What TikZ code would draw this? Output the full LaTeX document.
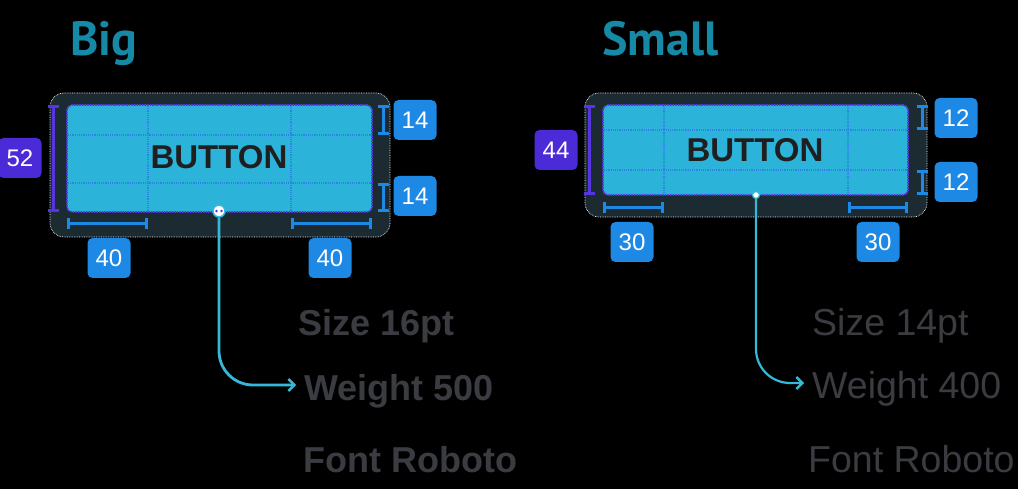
\documentclass[tikz,border=0pt]{standalone}
\usepackage{fontspec}
\setmainfont{Liberation Sans}
\newfontfamily\titlefont{PT Sans}
\usetikzlibrary{arrows.meta}
\definecolor{framec}{HTML}{1C2A32}
\definecolor{btnc}{HTML}{2BB3DA}
\definecolor{gridc}{HTML}{2A86E0}
\definecolor{brdc}{HTML}{5535E0}
\definecolor{lblblue}{HTML}{1E88E5}
\definecolor{lblpurple}{HTML}{4B2AD8}
\definecolor{titlec}{HTML}{1689A7}
\definecolor{specc}{HTML}{3B3C41}
\definecolor{connc}{HTML}{36B9D9}
\begin{document}
\begin{tikzpicture}[x=1pt,y=-1pt,
  framebox/.style={fill=framec, draw=white!75, densely dotted, line width=0.7pt, rounded corners=14pt},
  btnbox/.style={fill=btnc, draw=brdc, densely dotted, line width=1.6pt, rounded corners=5pt, inner sep=0pt},
  btntext/.style={font=\bfseries\fontsize{33}{40}\selectfont, text=black!88},
  gridline/.style={draw=gridc, densely dotted, line width=1.2pt},
  lbl/.style={minimum width=43pt, minimum height=40pt, rounded corners=5pt, text=white, inner sep=0pt,
    font=\fontsize{24}{28}\selectfont},
  lblb/.style={lbl, fill=lblblue},
  lblp/.style={lbl, fill=lblpurple},
  brk/.style={line width=3pt, {Bar[width=11pt,line width=3pt]}-{Bar[width=11pt,line width=3pt]}},
  titletext/.style={anchor=base west, inner sep=0pt, text=titlec, font=\titlefont\bfseries\fontsize{48}{52}\selectfont},
  spec/.style={anchor=base west, inner sep=0pt, text=specc, text height=30pt, text depth=0pt},
  specL/.style={spec, font=\bfseries\fontsize{36}{42}\selectfont},
  specR/.style={spec, font=\fontsize{37.5}{44}\selectfont},
  conn/.style={draw=connc, line width=2.8pt, rounded corners=34pt, -{Straight Barb[length=6pt,width=12pt,line width=2.4pt]}, shorten >=8pt}
]
\fill[black] (0,0) rectangle (1018,489);
\useasboundingbox (0,0) rectangle (1018,489);

% titles
\node[titletext] (tBig) at (70,56) {Big};
\node[titletext] (tSmall) at (602,56) {Small};

% ---------- Big button ----------
\draw[framebox] (50,93) rectangle (390,237);
\node[btnbox, minimum width=305pt, minimum height=107pt] (bL) at (219.5,158.5) {};
\draw[gridline] (148,106) -- (148,211);
\draw[gridline] (291,106) -- (291,211);
\draw[gridline] (68,135) -- (371,135);
\draw[gridline] (68,183) -- (371,183);
\node[btntext] (bLt) at (219,157) {BUTTON};

\draw[brk, brdc] (53,105) -- (53,212);
\draw[brk, lblblue] (383,105) -- (383,135);
\draw[brk, lblblue] (383,183) -- (383,212);
\draw[brk, lblblue] (67,224) -- (148,224);
\draw[brk, lblblue] (291,224) -- (372,224);

\node[lblp] (l52) at (20,158) {52};
\node[lblb] (l14a) at (415,120) {14};
\node[lblb] (l14b) at (415,196) {14};
\node[lblb] (l40a) at (109,258) {40};
\node[lblb] (l40b) at (330,258) {40};

\node[specL] (sL1) at (298,335) {Size 16pt};
\node[specL] (sL2) at (304,400) {Weight 500};
\node[specL] (sL3) at (303,472) {Font Roboto};

\node[circle, fill=white, draw=connc, line width=1.6pt, inner sep=0pt, minimum size=12pt] (dL) at (219,211) {};
\fill[brdc] (216.5,211) circle (1.3pt) (221.5,211) circle (1.3pt);
\draw[conn] (dL.south) |- (sL2.west);

% ---------- Small button ----------
\draw[framebox] (585,93) rectangle (927,217);
\node[btnbox, minimum width=305pt, minimum height=90pt] (bR) at (755.5,150) {};
\draw[gridline] (664,106) -- (664,194);
\draw[gridline] (848,106) -- (848,194);
\draw[gridline] (604,130) -- (907,130);
\draw[gridline] (604,170) -- (907,170);
\node[btntext] (bRt) at (755,150) {BUTTON};

\draw[brk, brdc] (589,105) -- (589,195);
\draw[brk, lblblue] (922,105) -- (922,130);
\draw[brk, lblblue] (922,170) -- (922,195);
\draw[brk, lblblue] (603,208) -- (664,208);
\draw[brk, lblblue] (848,208) -- (908,208);

\node[lblp] (l44) at (556,150) {44};
\node[lblb] (l12a) at (956,118) {12};
\node[lblb] (l12b) at (956,182) {12};
\node[lblb] (l30a) at (632,242) {30};
\node[lblb] (l30b) at (878,242) {30};

\node[specR] (sR1) at (812,335) {Size 14pt};
\node[specR] (sR2) at (812,398) {Weight 400};
\node[specR] (sR3) at (808,472) {Font Roboto};

\node[circle, fill=white, draw=connc, line width=1.2pt, inner sep=0pt, minimum size=7pt] (dR) at (756,195) {};
\draw[conn, line width=2.2pt] (dR.south) |- (sR2.west);
\end{tikzpicture}
\end{document}
